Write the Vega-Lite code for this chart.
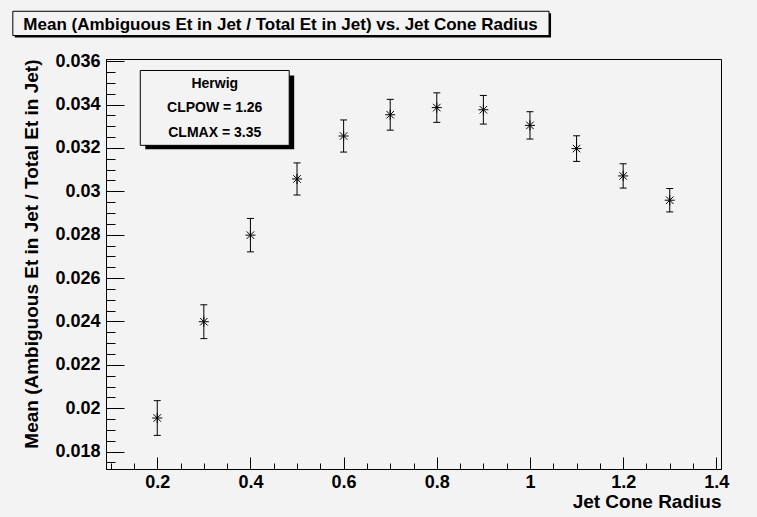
{
  "$schema": "https://vega.github.io/schema/vega-lite/v6.json",
  "width": 615,
  "height": 410,
  "autosize": {"type": "none"},
  "padding": {"left": 106, "top": 59, "right": 36, "bottom": 48},
  "background": "#f3f3f3",
  "config": {
    "font": "Liberation Sans",
    "view": {"stroke": "black", "strokeWidth": 1, "fill": "#f3f3f3"},
    "axis": {"domainColor": "black", "tickColor": "black", "labelColor": "black", "titleColor": "black", "grid": false}
  },
  "data": {"values": [
    {"radius": 0.2, "mean": 0.01955, "lo": 0.01875, "hi": 0.02035},
    {"radius": 0.3, "mean": 0.02399, "lo": 0.02321, "hi": 0.02477},
    {"radius": 0.4, "mean": 0.02798, "lo": 0.02721, "hi": 0.02875},
    {"radius": 0.5, "mean": 0.03057, "lo": 0.02983, "hi": 0.03131},
    {"radius": 0.6, "mean": 0.03255, "lo": 0.03181, "hi": 0.03329},
    {"radius": 0.7, "mean": 0.03353, "lo": 0.03282, "hi": 0.03424},
    {"radius": 0.8, "mean": 0.03386, "lo": 0.03318, "hi": 0.03454},
    {"radius": 0.9, "mean": 0.03376, "lo": 0.03310, "hi": 0.03442},
    {"radius": 1.0, "mean": 0.03304, "lo": 0.03241, "hi": 0.03367},
    {"radius": 1.1, "mean": 0.03197, "lo": 0.03138, "hi": 0.03256},
    {"radius": 1.2, "mean": 0.03071, "lo": 0.03015, "hi": 0.03127},
    {"radius": 1.3, "mean": 0.02959, "lo": 0.02905, "hi": 0.03013}
  ]},
  "resolve": {"axis": {"x": "independent", "y": "independent"}},
  "layer": [
    {
      "mark": {"type": "rule", "color": "black", "strokeWidth": 1},
      "encoding": {
        "x": {"field": "radius", "type": "quantitative",
          "scale": {"domain": [0.09, 1.41], "nice": false, "zero": false},
          "axis": {"orient": "bottom", "values": [0.1,0.15,0.25,0.3,0.35,0.45,0.5,0.55,0.65,0.7,0.75,0.85,0.9,0.95,1.05,1.1,1.15,1.25,1.3,1.35], "labels": false, "domain": false, "tickSize": -6, "title": null}},
        "y": {"field": "lo", "type": "quantitative",
          "scale": {"domain": [0.0172, 0.0361], "nice": false, "zero": false},
          "axis": {"orient": "left", "values": [0.0175,0.0185,0.019,0.0195,0.0205,0.021,0.0215,0.0225,0.023,0.0235,0.0245,0.025,0.0255,0.0265,0.027,0.0275,0.0285,0.029,0.0295,0.0305,0.031,0.0315,0.0325,0.033,0.0335,0.0345,0.035,0.0355], "labels": false, "domain": false, "tickSize": -9, "title": null}},
        "y2": {"field": "hi"}
      }
    },
    {
      "mark": {"type": "point", "shape": "M -1 0 L 1 0", "size": 49, "filled": false, "stroke": "black", "strokeWidth": 1, "opacity": 1},
      "encoding": {
        "x": {"field": "radius", "type": "quantitative", "axis": null},
        "y": {"field": "lo", "type": "quantitative", "axis": null}
      }
    },
    {
      "mark": {"type": "point", "shape": "M -1 0 L 1 0", "size": 49, "filled": false, "stroke": "black", "strokeWidth": 1, "opacity": 1},
      "encoding": {
        "x": {"field": "radius", "type": "quantitative", "axis": null},
        "y": {"field": "hi", "type": "quantitative", "axis": null}
      }
    },
    {
      "mark": {"type": "point", "shape": "M -1 0 L 1 0 M 0 -1 L 0 1 M -0.75 -0.75 L 0.75 0.75 M -0.75 0.75 L 0.75 -0.75", "size": 100, "filled": false, "stroke": "black", "strokeWidth": 1, "opacity": 1},
      "encoding": {
        "x": {"field": "radius", "type": "quantitative",
          "axis": {"orient": "bottom", "values": [0.2,0.4,0.6,0.8,1.0,1.2,1.4], "format": "~g", "tickSize": -12, "labelPadding": 16, "labelFontSize": 18, "labelFontWeight": "bold", "labelFlush": false,
            "title": "Jet Cone Radius", "titleFontSize": 19, "titleFontWeight": "bold", "titleAnchor": "end", "titlePadding": 1}},
        "y": {"field": "mean", "type": "quantitative",
          "axis": {"orient": "left", "values": [0.018,0.02,0.022,0.024,0.026,0.028,0.03,0.032,0.034,0.036], "format": "~g", "tickSize": -18, "labelPadding": 24, "labelFontSize": 18, "labelFontWeight": "bold", "labelFlush": false,
            "title": "Mean (Ambiguous Et in Jet / Total Et in Jet)", "titleFontSize": 19, "titleFontWeight": "bold", "titleAnchor": "end", "titlePadding": 13}}
      }
    },
    {
      "data": {"values": [{}]},
      "mark": {"type": "rect", "fill": "black"},
      "encoding": {
        "x": {"datum": 0.1743, "type": "quantitative", "axis": null},
        "x2": {"datum": 0.4939},
        "y": {"datum": 0.03534, "type": "quantitative", "axis": null},
        "y2": {"datum": 0.03194}
      }
    },
    {
      "data": {"values": [{}]},
      "mark": {"type": "rect", "fill": "#f3f3f3", "stroke": "black", "strokeWidth": 1},
      "encoding": {
        "x": {"datum": 0.1636, "type": "quantitative", "axis": null},
        "x2": {"datum": 0.4832},
        "y": {"datum": 0.03557, "type": "quantitative", "axis": null},
        "y2": {"datum": 0.03212}
      }
    },
    {
      "data": {"values": [{}]},
      "mark": {"type": "text", "font": "Liberation Sans", "fontSize": 14, "fontWeight": "bold", "align": "center", "baseline": "middle", "lineHeight": 24.5, "fill": "black"},
      "encoding": {
        "x": {"datum": 0.3234, "type": "quantitative", "axis": null},
        "y": {"datum": 0.03497, "type": "quantitative", "axis": null},
        "text": {"value": ["Herwig", "CLPOW = 1.26", "CLMAX = 3.35"]}
      }
    },
    {
      "data": {"values": [{}]},
      "mark": {"type": "rect", "fill": "black"},
      "encoding": {
        "x": {"datum": -0.1057, "type": "quantitative", "axis": null},
        "x2": {"datum": 1.0452},
        "y": {"datum": 0.03821, "type": "quantitative", "axis": null},
        "y2": {"datum": 0.03709}
      }
    },
    {
      "data": {"values": [{}]},
      "mark": {"type": "rect", "fill": "#f3f3f3", "stroke": "black", "strokeWidth": 1},
      "encoding": {
        "x": {"datum": -0.11, "type": "quantitative", "axis": null},
        "x2": {"datum": 1.0409},
        "y": {"datum": 0.0383, "type": "quantitative", "axis": null},
        "y2": {"datum": 0.03718}
      }
    },
    {
      "data": {"values": [{}]},
      "mark": {"type": "text", "font": "Liberation Sans", "fontSize": 17, "fontWeight": "bold", "align": "left", "baseline": "middle", "fill": "black"},
      "encoding": {
        "x": {"datum": -0.0874, "type": "quantitative", "axis": null},
        "y": {"datum": 0.03769, "type": "quantitative", "axis": null},
        "text": {"value": "Mean (Ambiguous Et in Jet / Total Et in Jet) vs. Jet Cone Radius"}
      }
    }
  ]
}
